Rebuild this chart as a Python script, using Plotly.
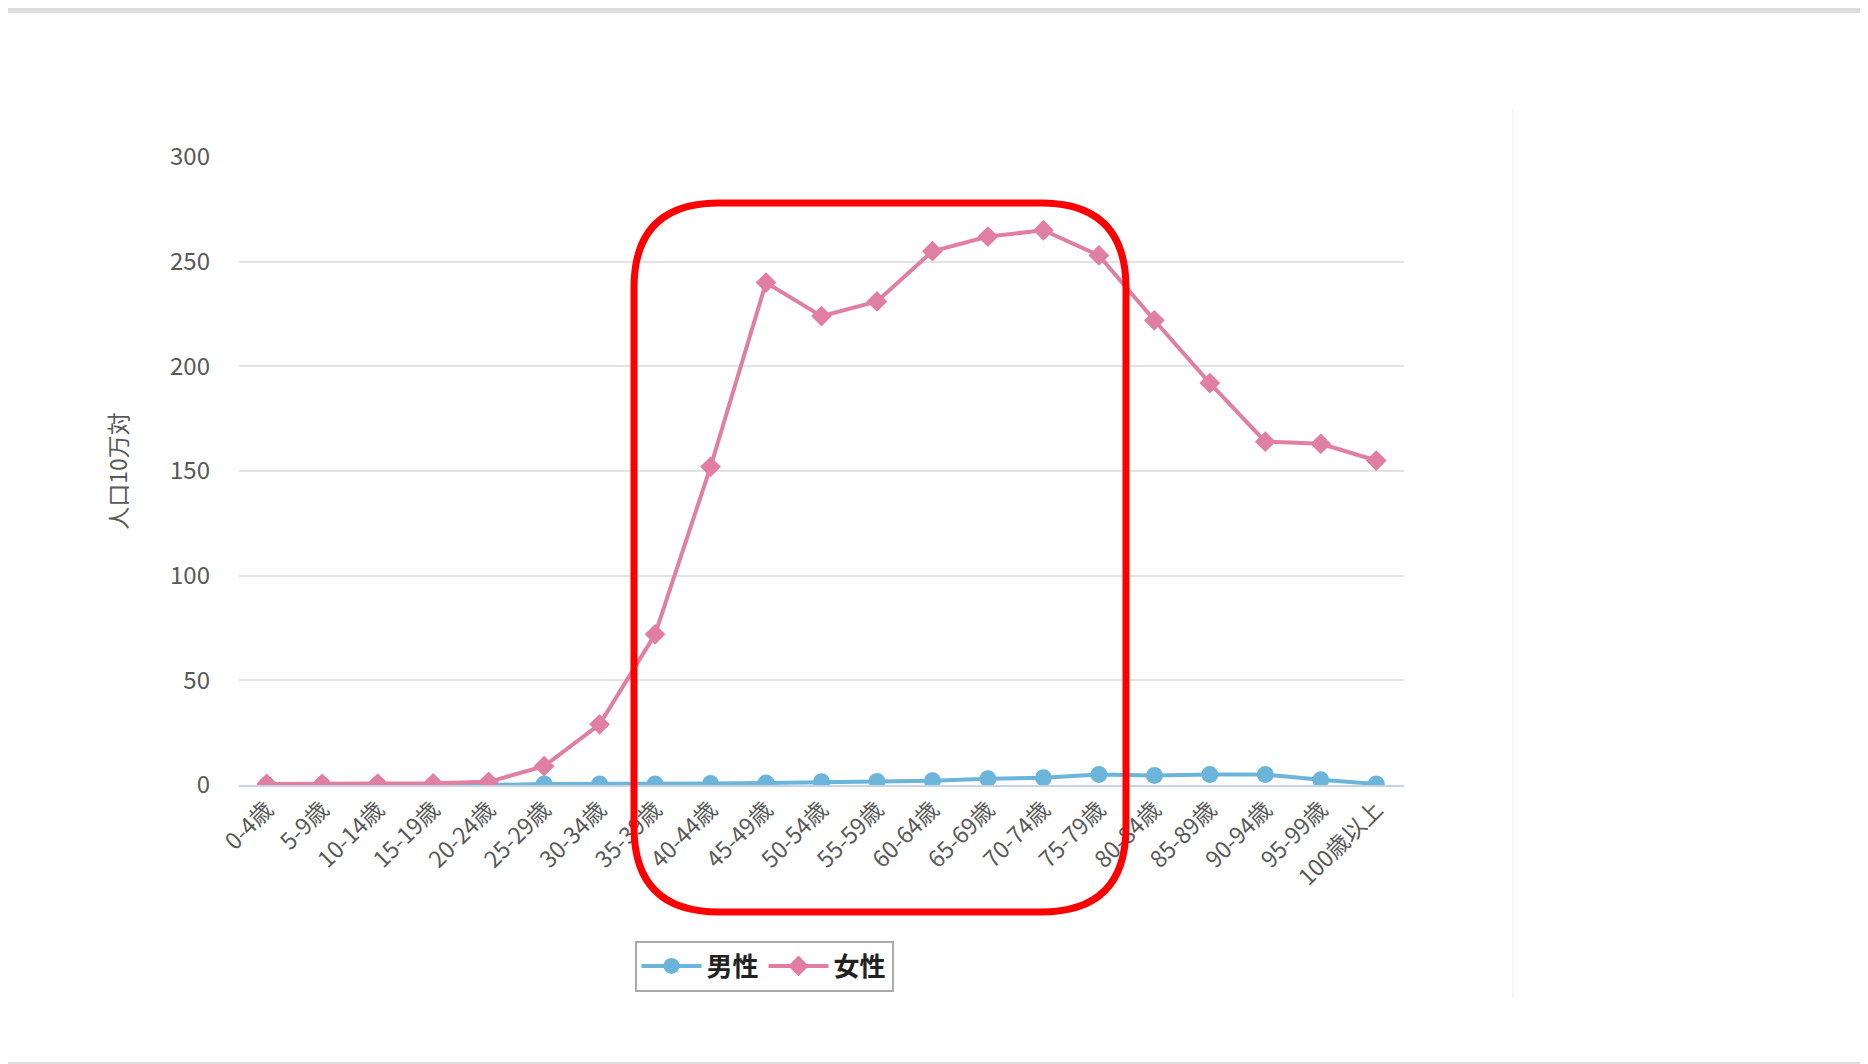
import plotly.graph_objects as go

categories = ["0-4歳","5-9歳","10-14歳","15-19歳","20-24歳","25-29歳","30-34歳","35-39歳","40-44歳","45-49歳",
              "50-54歳","55-59歳","60-64歳","65-69歳","70-74歳","75-79歳","80-84歳","85-89歳","90-94歳","95-99歳","100歳以上"]
male = [0, 0, 0, 0, 0, 0.5, 0.5, 0.5, 0.7, 1, 1.5, 1.7, 2, 3, 3.5, 5, 4.5, 5, 5, 2.5, 0.5]
female = [0.5, 0.5, 0.7, 0.8, 1.5, 9, 29, 72, 152, 240, 224, 231, 255, 262, 265, 253, 222, 192, 164, 163, 155]
y_ticks = [0, 50, 100, 150, 200, 250, 300]

W, H = 1868, 1064
L, R, T, B = 231, 1396, 149, 777
def px(x): return (x - L) / (R - L)
def py(y): return (B - y) / (B - T)

fig = go.Figure()
fig.add_trace(go.Scatter(x=categories, y=male, name="<b>男性</b>", mode="lines+markers",
                         line=dict(color="#6BB5DA", width=4), marker=dict(symbol="circle", size=17, color="#6BB5DA")))
fig.add_trace(go.Scatter(x=categories, y=female, name="<b>女性</b>", mode="lines+markers",
                         line=dict(color="#E07FA1", width=4), marker=dict(symbol="diamond", size=16, color="#E07FA1")))

x0, x1, y0, y1, r = 626, 1118, 195, 904, 85
path = (f"M {px(x0+r)},{py(y0)} L {px(x1-r)},{py(y0)} Q {px(x1)},{py(y0)} {px(x1)},{py(y0+r)} "
        f"L {px(x1)},{py(y1-r)} Q {px(x1)},{py(y1)} {px(x1-r)},{py(y1)} L {px(x0+r)},{py(y1)} "
        f"Q {px(x0)},{py(y1)} {px(x0)},{py(y1-r)} L {px(x0)},{py(y0+r)} Q {px(x0)},{py(y0)} {px(x0+r)},{py(y0)} Z")
shapes = [
    dict(type="path", path=path, xref="paper", yref="paper", line=dict(color="#FF0000", width=7)),
    dict(type="line", xref="paper", yref="paper", x0=px(1505), x1=px(1505), y0=py(101), y1=py(991),
         line=dict(color="#EEEEEE", width=1)),
    dict(type="rect", xref="paper", yref="paper", x0=px(0), x1=px(W), y0=py(1054), y1=py(H),
         line=dict(width=0), fillcolor="#DDDDDD"),
    dict(type="rect", xref="paper", yref="paper", x0=px(0), x1=px(W), y0=py(0), y1=py(5),
         line=dict(width=0), fillcolor="#DDDDDD"),
    dict(type="rect", xref="paper", yref="paper", x0=px(1862), x1=px(W), y0=py(0), y1=py(H),
         line=dict(width=0), fillcolor="#DDDDDD"),
]

fig.update_layout(
    width=W, height=H, margin=dict(l=L, r=W - R, t=T, b=H - B),
    paper_bgcolor="white", plot_bgcolor="white",
    font=dict(family="Noto Sans CJK JP", color="#595959", size=24),
    xaxis=dict(type="category", tickangle=-45, showgrid=False, showline=True, linecolor="#C9D3E6", linewidth=2,
               range=[-0.5, len(categories) - 0.5], tickfont=dict(size=23)),
    yaxis=dict(range=[0, 300], tickvals=y_ticks, gridcolor="#E3E3E3", gridwidth=1.5, zeroline=False,
               title=dict(text="人口10万対", font=dict(size=23), standoff=35), ticklabelstandoff=28,
               tickfont=dict(size=24)),
    legend=dict(orientation="h", x=px(756), xanchor="center", y=py(958), yanchor="middle",
                bordercolor="#AAAAAA", borderwidth=2, font=dict(size=26, color="#222222"),
                itemwidth=60, tracegroupgap=30),
    shapes=shapes,
)
fig.write_html("out.html")
